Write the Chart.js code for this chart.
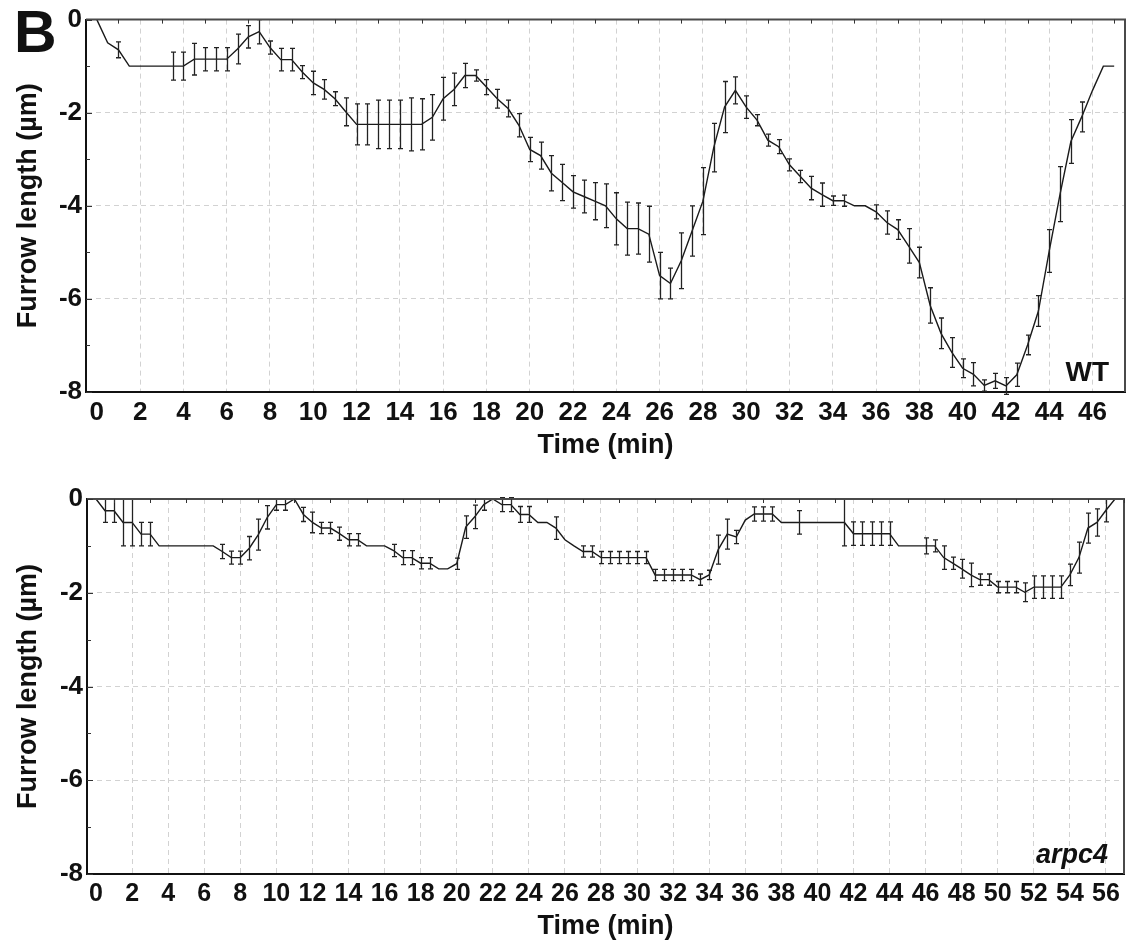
<!DOCTYPE html>
<html>
<head>
<meta charset="utf-8">
<script src="https://cdn.jsdelivr.net/npm/chart.js@4.4.1/dist/chart.umd.min.js"></script>
<style>
    html, body { margin: 0; padding: 0; background: #fff; }
    body { width: 1135px; height: 947px; position: relative; overflow: hidden; }
    .panel { position: absolute; left: 0; }
    #panel-wt { top: 0; }
    #panel-arpc { top: 475px; }
</style>
</head>
<body>
<div class="panel" id="panel-wt"><canvas id="chart-wt" width="1135" height="470" style="width:1135px;height:470px"></canvas></div>
<div class="panel" id="panel-arpc"><canvas id="chart-arpc" width="1135" height="472" style="width:1135px;height:472px"></canvas></div>
<script>
// WT: furrow length (µm) every 0.5 min, with error bar half-heights (0 = no bar)
const wtTime = [
    0, 0.5, 1, 1.5, 2, 2.5, 3, 3.5, 4, 4.5,
    5, 5.5, 6, 6.5, 7, 7.5, 8, 8.5, 9, 9.5,
    10, 10.5, 11, 11.5, 12, 12.5, 13, 13.5, 14, 14.5,
    15, 15.5, 16, 16.5, 17, 17.5, 18, 18.5, 19, 19.5,
    20, 20.5, 21, 21.5, 22, 22.5, 23, 23.5, 24, 24.5,
    25, 25.5, 26, 26.5, 27, 27.5, 28, 28.5, 29, 29.5,
    30, 30.5, 31, 31.5, 32, 32.5, 33, 33.5, 34, 34.5,
    35, 35.5, 36, 36.5, 37, 37.5, 38, 38.5, 39, 39.5,
    40, 40.5, 41, 41.5, 42, 42.5, 43, 43.5, 44, 44.5,
    45, 45.5, 46, 46.5, 47
];
const wtLength = [
    0, -0.5, -0.65, -1.0, -1.0, -1.0, -1.0, -1.0, -1.0, -0.85,
    -0.85, -0.85, -0.85, -0.63, -0.37, -0.26, -0.6, -0.86, -0.86, -1.13,
    -1.36, -1.5, -1.7, -1.98, -2.25, -2.25, -2.25, -2.25, -2.25, -2.25,
    -2.25, -2.1, -1.7, -1.5, -1.2, -1.2, -1.45, -1.7, -1.91, -2.27,
    -2.79, -2.92, -3.3, -3.5, -3.7, -3.8, -3.9, -4.0, -4.28, -4.49,
    -4.49, -4.61, -5.5, -5.67, -5.18, -4.54, -3.9, -2.75, -1.88, -1.52,
    -1.88, -2.16, -2.59, -2.73, -3.12, -3.37, -3.62, -3.76, -3.89, -3.89,
    -4.0, -4.0, -4.13, -4.36, -4.51, -4.86, -5.22, -6.14, -6.74, -7.15,
    -7.49, -7.62, -7.86, -7.76, -7.87, -7.63, -6.99, -6.26, -4.97, -3.75,
    -2.62, -2.09, -1.52, -1.0, -1.0
];
const wtError = [
    0, 0, 0.17, 0, 0, 0, 0, 0.3, 0.3, 0.34,
    0.25, 0.25, 0.25, 0.32, 0.24, 0.26, 0.14, 0.24, 0.24, 0.14,
    0.25, 0.21, 0.15, 0.3, 0.44, 0.44, 0.52, 0.52, 0.52, 0.57,
    0.55, 0.49, 0.46, 0.35, 0.26, 0.12, 0.16, 0.2, 0.18, 0.25,
    0.26, 0.29, 0.38, 0.39, 0.35, 0.35, 0.4, 0.47, 0.56, 0.57,
    0.55, 0.6, 0.5, 0.33, 0.6, 0.54, 0.72, 0.52, 0.55, 0.29,
    0.24, 0.12, 0.13, 0.15, 0.13, 0.13, 0.25, 0.25, 0.1, 0.12,
    0, 0, 0.15, 0.25, 0.21, 0.37, 0.33, 0.38, 0.33, 0.32,
    0.2, 0.25, 0.12, 0.16, 0.18, 0.25, 0.21, 0.33, 0.46, 0.59,
    0.47, 0.32, 0, 0, 0
];

// arpc4
const arpcTime = [
    0, 0.5, 1, 1.5, 2, 2.5, 3, 3.5, 4, 4.5,
    5, 5.5, 6, 6.5, 7, 7.5, 8, 8.5, 9, 9.5,
    10, 10.5, 11, 11.5, 12, 12.5, 13, 13.5, 14, 14.5,
    15, 15.5, 16, 16.5, 17, 17.5, 18, 18.5, 19, 19.5,
    20, 20.5, 21, 21.5, 22, 22.5, 23, 23.5, 24, 24.5,
    25, 25.5, 26, 26.5, 27, 27.5, 28, 28.5, 29, 29.5,
    30, 30.5, 31, 31.5, 32, 32.5, 33, 33.5, 34, 34.5,
    35, 35.5, 36, 36.5, 37, 37.5, 38, 38.5, 39, 39.5,
    40, 40.5, 41, 41.5, 42, 42.5, 43, 43.5, 44, 44.5,
    45, 45.5, 46, 46.5, 47, 47.5, 48, 48.5, 49, 49.5,
    50, 50.5, 51, 51.5, 52, 52.5, 53, 53.5, 54, 54.5,
    55, 55.5, 56, 56.5
];
const arpcLength = [
    0, -0.25, -0.25, -0.5, -0.5, -0.75, -0.75, -1.0, -1.0, -1.0,
    -1.0, -1.0, -1.0, -1.0, -1.12, -1.25, -1.25, -1.05, -0.76, -0.39,
    -0.12, -0.12, 0, -0.33, -0.5, -0.62, -0.62, -0.74, -0.87, -0.87,
    -1.0, -1.0, -1.0, -1.1, -1.25, -1.25, -1.37, -1.37, -1.49, -1.49,
    -1.38, -0.6, -0.38, -0.12, 0, -0.12, -0.12, -0.33, -0.33, -0.5,
    -0.5, -0.62, -0.87, -1.0, -1.12, -1.12, -1.25, -1.25, -1.25, -1.25,
    -1.25, -1.25, -1.62, -1.62, -1.62, -1.62, -1.62, -1.72, -1.62, -1.08,
    -0.75, -0.81, -0.45, -0.32, -0.32, -0.32, -0.5, -0.5, -0.5, -0.5,
    -0.5, -0.5, -0.5, -0.5, -0.74, -0.74, -0.74, -0.74, -0.74, -1.0,
    -1.0, -1.0, -1.0, -1.0, -1.25, -1.37, -1.49, -1.62, -1.72, -1.72,
    -1.88, -1.88, -1.88, -1.99, -1.88, -1.88, -1.88, -1.88, -1.62, -1.25,
    -0.62, -0.5, -0.24, 0
];
const arpcError = [
    0, 0.25, 0.25, 0.5, 0.5, 0.25, 0.25, 0, 0, 0,
    0, 0, 0, 0, 0.15, 0.14, 0.14, 0.25, 0.33, 0.25,
    0.12, 0.12, 0, 0.15, 0.22, 0.12, 0.12, 0.14, 0.13, 0.13,
    0, 0, 0, 0.13, 0.15, 0.15, 0.12, 0.12, 0, 0,
    0.12, 0.24, 0.25, 0.12, 0, 0.15, 0.15, 0.17, 0.17, 0,
    0, 0.24, 0, 0, 0.12, 0.12, 0.13, 0.13, 0.13, 0.13,
    0.13, 0.13, 0.12, 0.12, 0.12, 0.12, 0.12, 0.12, 0.1, 0.31,
    0.32, 0.14, 0, 0.15, 0.15, 0.15, 0, 0, 0.25, 0,
    0, 0, 0, 0.5, 0.25, 0.25, 0.25, 0.25, 0.25, 0,
    0, 0, 0.17, 0.13, 0.25, 0.13, 0.2, 0.25, 0.12, 0.12,
    0.12, 0.12, 0.12, 0.2, 0.24, 0.24, 0.24, 0.24, 0.23, 0.33,
    0.32, 0.29, 0.25, 0
];

// Axis ticks
const wtTimeTicks = [0, 2, 4, 6, 8, 10, 12, 14, 16, 18, 20, 22, 24, 26, 28, 30, 32, 34, 36, 38, 40, 42, 44, 46];
const arpcTimeTicks = [0, 2, 4, 6, 8, 10, 12, 14, 16, 18, 20, 22, 24, 26, 28, 30, 32, 34, 36, 38, 40, 42, 44, 46, 48, 50, 52, 54, 56];
const lengthTicks = [-8, -6, -4, -2, 0];

const FONT = '"Liberation Sans", Arial, Helvetica, sans-serif';
const INK = '#111';
const GRID = '#d2d2d2';

/**
 * Barras de error: linea vertical con remates
 */
const errorBarPlugin = {
    id: 'errorBars',
    afterDatasetsDraw(chart, args, opts) {
        const xs = chart.scales.x, ys = chart.scales.y;
        const times = opts.times, values = opts.values, errors = opts.errors;
        const ctx = chart.ctx;
        ctx.save();
        ctx.strokeStyle = '#222';
        ctx.lineWidth = 1.3;
        ctx.beginPath();
        errors.forEach((e, i) => {
            if (!e) return;
            const x = Math.round(xs.getPixelForValue(times[i])) + 0.5;
            const y1 = ys.getPixelForValue(values[i] + e);
            const y2 = ys.getPixelForValue(values[i] - e);
            ctx.moveTo(x, y1); ctx.lineTo(x, y2);
            ctx.moveTo(x - 2.5, y1); ctx.lineTo(x + 2.5, y1);
            ctx.moveTo(x - 2.5, y2); ctx.lineTo(x + 2.5, y2);
        });
        ctx.stroke();
        ctx.restore();
    }
};

/**
 * Marco superior/derecho, marcas menores y rotulos del panel
 */
const framePlugin = {
    id: 'frame',
    afterDraw(chart, args, opts) {
        const {ctx, chartArea: a} = chart;
        const xs = chart.scales.x, ys = chart.scales.y;
        ctx.save();
        ctx.strokeStyle = '#4a4a4a';
        ctx.lineWidth = 2;
        ctx.beginPath();
        ctx.moveTo(a.left, a.top); ctx.lineTo(a.right, a.top); ctx.lineTo(a.right, a.bottom);
        ctx.stroke();

        ctx.strokeStyle = '#333';
        ctx.lineWidth = 1;
        ctx.beginPath();
        for (let m = Math.ceil(xs.min); m <= xs.max; m++) {
            if (m % 2 === 0) continue;
            const x = Math.round(xs.getPixelForValue(m)) + 0.5;
            ctx.moveTo(x, a.top); ctx.lineTo(x, a.top + 4);
        }
        for (let v = ys.min; v <= ys.max; v++) {
            const y = Math.round(ys.getPixelForValue(v)) + 0.5;
            ctx.moveTo(a.left, y); ctx.lineTo(a.left + (v % 2 === 0 ? 6 : 4), y);
        }
        ctx.stroke();

        ctx.fillStyle = INK;
        ctx.textAlign = 'right';
        ctx.textBaseline = 'alphabetic';
        ctx.font = (opts.italic ? 'italic ' : '') + 'bold ' + opts.tagSize + 'px ' + FONT;
        ctx.fillText(opts.tag, a.right - 16, a.bottom - 11);

        if (opts.letter) {
            ctx.textAlign = 'left';
            ctx.font = 'bold 59px ' + FONT;
            ctx.fillText(opts.letter, 14, 52);
        }
        ctx.restore();
    }
};

function makePanel(canvasId, times, values, errors, timeTicks, xMax, layout, labels) {
    const canvas = document.getElementById(canvasId);
    return new Chart(canvas, {
        type: 'line',
        data: {
            datasets: [{
                data: times.map((t, i) => ({x: t, y: values[i]})),
                borderColor: '#1a1a1a',
                borderWidth: 1.4,
                pointRadius: 0,
                tension: 0,
                fill: false
            }]
        },
        options: {
            responsive: false,
            animation: false,
            devicePixelRatio: 1,
            layout: {padding: {left: 0, top: layout.top, right: layout.right, bottom: 0}},
            plugins: {
                legend: {display: false},
                tooltip: {enabled: false},
                errorBars: {times: times, values: values, errors: errors},
                frame: labels
            },
            scales: {
                x: {
                    type: 'linear',
                    min: -0.5,
                    max: xMax,
                    afterBuildTicks: s => { s.ticks = timeTicks.map(v => ({value: v})); },
                    afterFit: s => { s.height = layout.xHeight; },
                    ticks: {
                        autoSkip: false, maxRotation: 0, minRotation: 0, padding: 5,
                        color: INK, font: {family: FONT, size: layout.tickSize, weight: 'bold'}
                    },
                    grid: {
                        color: c => (c.tick && c.tick.value === 0) ? 'rgba(0,0,0,0)' : GRID,
                        lineWidth: 1, drawTicks: false
                    },
                    border: {display: true, color: INK, width: 2, dash: [5, 4]},
                    title: {
                        display: true, text: 'Time (min)', color: INK,
                        font: {family: FONT, size: 27, weight: 'bold'},
                        padding: {top: 0, bottom: layout.xTitlePad}
                    }
                },
                y: {
                    min: -8,
                    max: 0,
                    afterBuildTicks: s => { s.ticks = lengthTicks.map(v => ({value: v})); },
                    afterFit: s => { s.width = layout.yWidth; },
                    ticks: {
                        padding: 4, color: INK,
                        font: {family: FONT, size: 26, weight: 'bold'}
                    },
                    grid: {
                        color: c => (c.tick && (c.tick.value === 0 || c.tick.value === -8)) ? 'rgba(0,0,0,0)' : GRID,
                        lineWidth: 1, drawTicks: false
                    },
                    border: {display: true, color: INK, width: 2, dash: [5, 4]},
                    title: {
                        display: true, text: 'Furrow length (µm)', color: INK,
                        font: {family: FONT, size: 27, weight: 'bold'},
                        padding: {top: 12, bottom: 0}
                    }
                }
            }
        },
        plugins: [errorBarPlugin, framePlugin]
    });
}

makePanel('chart-wt', wtTime, wtLength, wtError, wtTimeTicks, 47.5,
    {top: 17, right: 10, xHeight: 78, yWidth: 86, tickSize: 26, xTitlePad: 8},
    {tag: 'WT', italic: false, tagSize: 28, letter: 'B'});

makePanel('chart-arpc', arpcTime, arpcLength, arpcError, arpcTimeTicks, 57,
    {top: 24, right: 11, xHeight: 73, yWidth: 87, tickSize: 25, xTitlePad: 4},
    {tag: 'arpc4', italic: true, tagSize: 27, letter: null});
</script>
</body>
</html>
